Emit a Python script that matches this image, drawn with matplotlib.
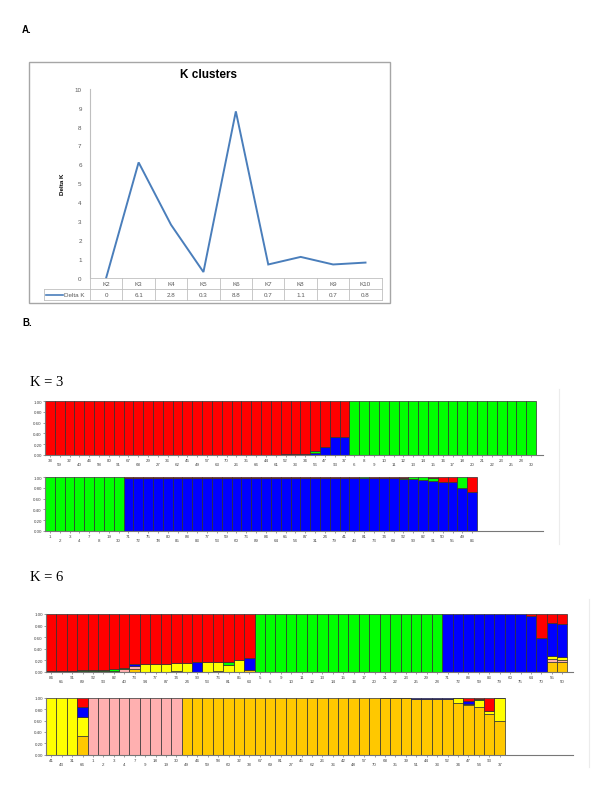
import numpy as np
import matplotlib
matplotlib.use("Agg")
import matplotlib.pyplot as plt
from matplotlib import patches

plt.rcParams['font.family'] = ['Liberation Sans', 'DejaVu Sans']

W, H = 600, 804

# ---------------- panel A: delta K
k_names = ["K2", "K3", "K4", "K5", "K6", "K7", "K8", "K9", "K10"]
delta_k = [0, 6.1, 2.8, 0.3, 8.8, 0.7, 1.1, 0.7, 0.8]

# ---------------- panel B: structure bar plots
RED, GREEN, BLUE = "#FF0000", "#00FF00", "#0000FF"
YELLOW, PINK, ORANGE = "#FFFF00", "#FFB0B0", "#FFC800"

# K = 3, first row (50 individuals)
k3_top_labels = [38, 59, 32, 40, 46, 58, 80, 91, 67, 68, 29, 27, 36, 62, 45, 49, 57, 63, 70, 26,
                 35, 66, 44, 61, 52, 33, 34, 56, 47, 93, 37, 6, 8, 9, 10, 11, 12, 13, 14, 15,
                 16, 17, 18, 20, 21, 22, 23, 25, 28, 30]
k3_top_blue = [0] * 24 + [0.01, 0, 0.01, 0.04, 0.14, 0.33, 0.34] + [0] * 19
k3_top_green = [0] * 25 + [0.02, 0, 0.02, 0, 0, 0] + [1.0] * 19
k3_top_red = [1.0] * 24 + [0.99, 0.98, 0.99, 0.94, 0.86, 0.67, 0.66] + [0] * 19

# K = 3, second row (44 individuals)
k3_bot_labels = [1, 2, 3, 4, 7, 8, 19, 30, 71, 72, 75, 78, 80, 85, 88, 83, 77, 53, 59, 60,
                 76, 89, 84, 64, 65, 54, 87, 31, 24, 79, 41, 43, 81, 73, 74, 69, 92, 90, 82, 91,
                 50, 55, 49, 86]
k3_bot_blue = [0] * 8 + [0.99] * 23 + [0.99, 0.985, 0.98, 0.98, 0.98, 0.96, 0.96, 0.95, 0.93,
                                       0.91, 0.91, 0.80, 0.72]
k3_bot_green = [1.0] * 8 + [0] * 23 + [0, 0.015, 0, 0, 0, 0.03, 0.04, 0.05, 0.06, 0, 0, 0.20, 0]
k3_bot_red = [0] * 8 + [0.01] * 23 + [0.01, 0, 0.02, 0.02, 0.02, 0.01, 0, 0, 0.01, 0.09, 0.09, 0, 0.28]

# K = 6, first row (50 individuals)
k6_top_labels = [84, 65, 91, 89, 92, 93, 82, 40, 73, 94, 77, 87, 74, 24, 90, 53, 76, 81, 85, 63,
                 5, 6, 9, 10, 11, 12, 13, 14, 15, 16, 17, 20, 21, 22, 23, 25, 29, 28,
                 71, 72, 88, 59, 83, 79, 60, 75, 64, 70, 55, 50]
k6_top_orange = [0.01, 0.01, 0.01, 0.015, 0.02, 0.02, 0.02, 0, 0.04, 0, 0, 0, 0.02, 0, 0, 0,
                 0.01, 0, 0, 0.03] + [0] * 18 + [0] * 8 + [0, 0, 0.17, 0.17]
k6_top_pink = [0] * 7 + [0.05, 0.06] + [0] * 11 + [0] * 26 + [0, 0, 0.05, 0.04]
k6_top_yellow = [0] * 9 + [0.13, 0.13, 0.14, 0.13, 0.15, 0, 0.16, 0.15, 0.12, 0.21, 0] + [0] * 26 + [0, 0, 0.06, 0.05]
k6_top_blue = [0] * 8 + [0.03] + [0] * 5 + [0.16] + [0] * 4 + [0.20] + [0] * 18 + [1.0] * 8 + [0.96, 0.58, 0.56, 0.56]
k6_top_green = [0.005, 0.005, 0.01, 0.01, 0.015, 0.015, 0.03, 0.02] + [0] * 9 + [0.05, 0, 0] + [1.0] * 18 + [0] * 12
k6_top_red = [0.985, 0.985, 0.98, 0.975, 0.965, 0.965, 0.95, 0.93, 0.87, 0.87, 0.87, 0.86, 0.85,
              0.85, 0.84, 0.84, 0.84, 0.83, 0.79, 0.77] + [0] * 18 + [0] * 8 + [0.04, 0.42, 0.16, 0.18]

# K = 6, second row (44 individuals)
k6_bot_labels = [41, 43, 31, 66, 1, 2, 3, 4, 7, 9, 18, 19, 30, 49, 46, 59, 58, 60, 32, 38,
                 67, 69, 81, 27, 45, 62, 26, 36, 42, 48, 57, 70, 68, 35, 39, 51, 44, 33, 52, 34,
                 47, 54, 93, 37]
k6_bot_orange = [0, 0, 0, 0.32] + [0] * 9 + [1.0] * 19 + [0.99, 0.99, 0.99, 0.985, 0.98, 0.975,
                                                         0.97, 0.91, 0.88, 0.84, 0.72, 0.60]
k6_bot_pink = [0] * 4 + [1.0] * 9 + [0] * 31
k6_bot_yellow = [1.0] * 3 + [0.34] + [0] * 9 + [0] * 19 + [0] * 7 + [0.08, 0.01, 0.12, 0.05, 0.39]
k6_bot_blue = [0] * 3 + [0.18] + [0] * 9 + [0] * 19 + [0.01, 0.01, 0.01, 0.015, 0.02, 0.025,
                                                       0.03, 0.01, 0.06, 0, 0, 0.01]
k6_bot_green = [0] * 41 + [0.02, 0, 0]
k6_bot_red = [0] * 3 + [0.16] + [0] * 9 + [0] * 19 + [0] * 8 + [0.05, 0.02, 0.23, 0]


fig = plt.figure(figsize=(W / 100, H / 100), dpi=100)


def px_axes(x0, y0, x1, y1):
    return fig.add_axes([x0 / W, 1 - y1 / H, (x1 - x0) / W, (y1 - y0) / H])


def fig_text(x, y, s, **kw):
    return fig.text(x / W, 1 - y / H, s, **kw)


# ================= A =================
fig_text(22, 30, "A.", fontsize=7, fontweight="bold", va="center", ha="left")

box = patches.Rectangle((29 / W, 1 - 304 / H), (390 - 29) / W, (304 - 63) / H,
                        transform=fig.transFigure, fill=False, ec="#A6A6A6", lw=1.0)
fig.add_artist(box)
fig_text(209, 75, "K clusters", fontsize=8.5, fontweight="bold", ha="center", va="center")

ax = px_axes(90, 89.7, 381.7, 278.7)
xs = np.arange(len(k_names))
ax.plot(xs, delta_k, color="#4A7EBB", lw=1.4, solid_joinstyle="miter", clip_on=False)
ax.set_xlim(-0.5, len(k_names) - 0.5)
ax.set_ylim(0, 10)
ax.set_yticks(range(0, 11))
ax.tick_params(axis="y", length=0, pad=6, labelsize=4.5, labelcolor="#595959")
ax.set_xticks([])
for s in ["top", "right", "bottom"]:
    ax.spines[s].set_visible(False)
ax.spines["left"].set_color("#BFBFBF")
ax.spines["left"].set_linewidth(0.8)
ax.set_ylabel("Delta K", fontsize=4.5, fontweight="bold", labelpad=7)

# data table under the chart (in data coordinates of the axes)
ppu = (278.7 - 89.7) / 10.0       # pixels per y unit
cpu = (381.7 - 90) / len(k_names)  # pixels per category
r1 = -(290 - 278.7) / ppu
r2 = -(301 - 278.7) / ppu
xleft = -0.5 - (90 - 44) / cpu
grid = dict(color="#BFBFBF", lw=0.6, clip_on=False)
n = len(k_names)
ax.plot([-0.5, n - 0.5], [0, 0], **grid)
ax.plot([xleft, n - 0.5], [r1, r1], **grid)
ax.plot([xleft, n - 0.5], [r2, r2], **grid)
ax.plot([xleft, xleft], [r1, r2], **grid)
for j in range(n + 1):
    ax.plot([j - 0.5, j - 0.5], [0, r2], **grid)
for j, (name, v) in enumerate(zip(k_names, delta_k)):
    ax.text(j, r1 / 2, name, fontsize=4.5, color="#595959", ha="center", va="center")
    ax.text(j, (r1 + r2) / 2, f"{v:g}", fontsize=4.5, color="#595959", ha="center", va="center")
ly = (r1 + r2) / 2
ax.plot([-0.5 - (90 - 46) / cpu, -0.5 - (90 - 63) / cpu], [ly, ly], color="#4A7EBB", lw=1.2,
        clip_on=False)
ax.text(-0.5 - (90 - 64) / cpu, ly, "Delta K", fontsize=4.5, color="#595959", ha="left", va="center")

# ================= B =================
fig_text(22, 323, "B.", fontsize=7, fontweight="bold", va="center", ha="left")
fig_text(30, 383, "K = 3", fontsize=10.5, family=["Liberation Serif", "DejaVu Serif"],
         va="center", ha="left")
fig_text(30, 578, "K = 6", fontsize=10.5, family=["Liberation Serif", "DejaVu Serif"],
         va="center", ha="left")

# faint frame lines of the original structure images
fig.add_artist(plt.Line2D([559 / W, 559 / W], [1 - 390 / H, 1 - 545 / H], transform=fig.transFigure,
                          color="#ECECEC", lw=0.8))
fig.add_artist(plt.Line2D([589 / W, 589 / W], [1 - 600 / H, 1 - 768 / H], transform=fig.transFigure,
                          color="#ECECEC", lw=0.8))


def structure_row(rect, labels, comps, bar_px):
    x0, y0, x1, y1 = rect
    a = px_axes(x0, y0, x1, y1)
    nb = len(labels)
    pos = np.arange(nb) + 0.5
    bottom = np.zeros(nb)
    for vals, col in comps:
        v = np.asarray(vals, dtype=float)
        m = v > 0
        a.bar(pos[m], v[m], bottom=bottom[m], width=1.0, color=col, edgecolor="#303030",
              linewidth=0.5, clip_on=False, zorder=2)
        bottom += v
    a.set_xlim(0, (x1 - x0) / bar_px)
    a.set_ylim(0, 1)
    yt = [0, 0.2, 0.4, 0.6, 0.8, 1.0]
    a.set_yticks(yt)
    a.set_yticklabels([f"{t:.2f}" for t in yt])
    a.set_xticks(pos)
    a.set_xticklabels([str(l) if i % 2 == 0 else "\n" + str(l) for i, l in enumerate(labels)])
    for t in a.get_xticklabels():
        t.set_linespacing(0.95)
    a.tick_params(axis="both", length=1.5, width=0.4, color="#555555", labelsize=3.2,
                  labelcolor="#444444", pad=0.8)
    for s in ["top", "right"]:
        a.spines[s].set_visible(False)
    for s in ["left", "bottom"]:
        a.spines[s].set_color("#777777")
        a.spines[s].set_linewidth(0.8)
    return a


structure_row((45, 402.3, 543.3, 455.7), k3_top_labels,
              [(k3_top_blue, BLUE), (k3_top_green, GREEN), (k3_top_red, RED)], 9.82)
structure_row((45, 478.3, 543.3, 531.7), k3_bot_labels,
              [(k3_bot_blue, BLUE), (k3_bot_green, GREEN), (k3_bot_red, RED)], 9.82)
structure_row((46, 615, 573.3, 672.7), k6_top_labels,
              [(k6_top_orange, ORANGE), (k6_top_pink, PINK), (k6_top_yellow, YELLOW),
               (k6_top_blue, BLUE), (k6_top_green, GREEN), (k6_top_red, RED)], 10.43)
structure_row((46, 698.7, 573.3, 755.7), k6_bot_labels,
              [(k6_bot_orange, ORANGE), (k6_bot_pink, PINK), (k6_bot_yellow, YELLOW),
               (k6_bot_blue, BLUE), (k6_bot_green, GREEN), (k6_bot_red, RED)], 10.43)

fig.savefig("out.png", dpi=100)
